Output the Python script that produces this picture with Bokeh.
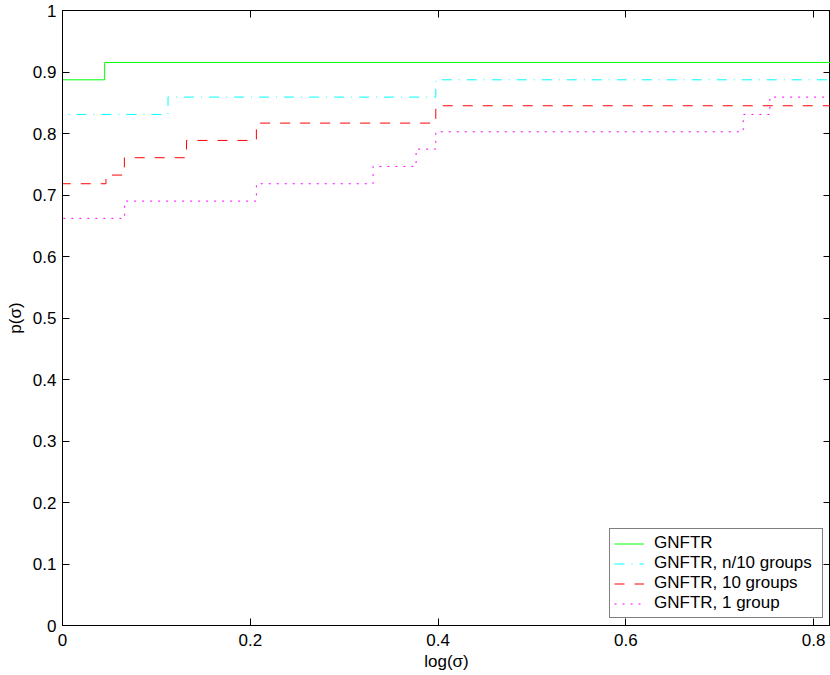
from bokeh.plotting import figure
from bokeh.models import LinearAxis, FixedTicker, Range1d, Legend, LegendItem
from bokeh.embed import file_html
from bokeh.resources import INLINE

# ---------------- data ----------------
x_max = 0.818
x_ticks = [0, 0.2, 0.4, 0.6, 0.8]
x_tick_labels = ["0", "0.2", "0.4", "0.6", "0.8"]
y_ticks = [0, 0.1, 0.2, 0.3, 0.4, 0.5, 0.6, 0.7, 0.8, 0.9, 1]
y_tick_labels = ["0", "0.1", "0.2", "0.3", "0.4", "0.5", "0.6", "0.7", "0.8", "0.9", "1"]

series_names = ["GNFTR", "GNFTR, n/10 groups", "GNFTR, 10 groups", "GNFTR, 1 group"]

# step breakpoints (log(sigma)) and profile levels p(sigma)
gnftr_x = [0.0, 0.0449]
gnftr_y = [0.8873, 0.9155]

n10_x = [0.0, 0.1124, 0.3976]
n10_y = [0.8310, 0.8592, 0.8873]

g10_x = [0.0, 0.0463, 0.0659, 0.1321, 0.2065, 0.3976]
g10_y = [0.7183, 0.7324, 0.7606, 0.7887, 0.8169, 0.8451]

g1_x = [0.0, 0.0662, 0.2065, 0.3308, 0.3766, 0.3976, 0.7250, 0.7534]
g1_y = [0.6620, 0.6901, 0.7183, 0.7465, 0.7746, 0.8028, 0.8310, 0.8592]

colors = ["#00ff00", "#00ffff", "#ff0000", "#ff00ff"]
dashes = ["solid", "10 7 1 7", "10 10", "2 6"]

FONT = "Liberation Sans"
FS = "17px"

p = figure(width=830, height=675, output_backend="svg", toolbar_location=None,
           x_range=Range1d(0, x_max), y_range=Range1d(0, 1),
           min_border_left=62, min_border_right=0, min_border_top=10, min_border_bottom=50)
p.background_fill_color = "white"
p.border_fill_color = "white"
p.outline_line_color = "black"
p.outline_line_width = 1
p.xgrid.visible = False
p.ygrid.visible = False


def style_axis(ax, ticks, labels, show_labels=True):
    ax.ticker = FixedTicker(ticks=ticks)
    ax.minor_tick_line_color = None
    ax.major_tick_in = 7
    ax.major_tick_out = 0
    ax.major_tick_line_color = "black"
    ax.axis_line_color = "black"
    ax.major_label_text_font = FONT
    ax.major_label_text_color = "black"
    if show_labels:
        ax.major_label_overrides = {t: l for t, l in zip(ticks, labels)}
        ax.major_label_text_font_size = FS
        ax.major_label_standoff = 6
    else:
        ax.major_label_text_font_size = "0px"
        ax.major_label_standoff = 0
        ax.major_label_overrides = {t: "" for t in ticks}


style_axis(p.xaxis[0], x_ticks, x_tick_labels)
style_axis(p.yaxis[0], y_ticks, y_tick_labels)
p.xaxis[0].major_label_standoff = 8
p.xaxis[0].axis_label = "log(σ)"
p.yaxis[0].axis_label = "p(σ)"
for ax in (p.xaxis[0], p.yaxis[0]):
    ax.axis_label_text_font = FONT
    ax.axis_label_text_font_size = FS
    ax.axis_label_text_font_style = "normal"
    ax.axis_label_text_color = "black"
p.xaxis[0].axis_label_standoff = 3
p.yaxis[0].axis_label_standoff = 5

top_ax = LinearAxis()
style_axis(top_ax, x_ticks, x_tick_labels, show_labels=False)
p.add_layout(top_ax, "above")
right_ax = LinearAxis()
style_axis(right_ax, y_ticks, y_tick_labels, show_labels=False)
p.add_layout(right_ax, "right")


def stairs(bx, by):
    xs = [0.0] + list(bx) + [x_max]
    ys = [0.0] + list(by) + [by[-1]]
    return xs, ys


all_x = [gnftr_x, n10_x, g10_x, g1_x]
all_y = [gnftr_y, n10_y, g10_y, g1_y]
items = []
for name, bx, by, c, d in zip(series_names, all_x, all_y, colors, dashes):
    xs, ys = stairs(bx, by)
    r = p.step(xs, ys, mode="after", line_color=c, line_width=1, line_dash=d)
    items.append(LegendItem(label=name, renderers=[r]))

legend = Legend(items=items, location=(547, 7))
legend.label_text_font = FONT
legend.label_text_font_size = FS
legend.label_text_color = "black"
legend.border_line_color = "black"
legend.border_line_width = 1
legend.background_fill_color = "white"
legend.background_fill_alpha = 1
legend.padding = 4
legend.spacing = 0
legend.margin = 0
legend.glyph_width = 30
legend.glyph_height = 19
legend.label_height = 19
legend.label_width = 164
legend.label_standoff = 10
legend.label_text_baseline = "middle"
p.add_layout(legend, "center")

open("out.html", "w").write(file_html(p, INLINE))
